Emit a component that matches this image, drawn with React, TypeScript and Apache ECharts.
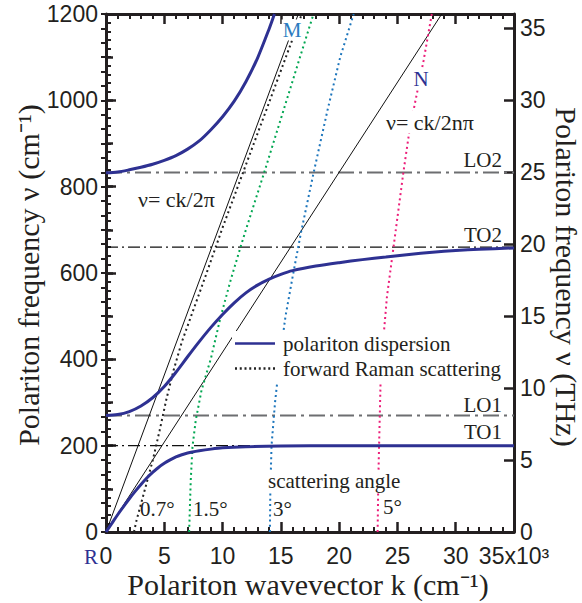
import React, { useEffect, useRef } from 'react';
import * as echarts from 'echarts';

// k in units of 10^3 cm^-1, nu in cm^-1
const lowerK = [0, 0.5, 1, 1.5, 2, 2.5, 3, 3.5, 4, 4.5, 5, 5.5, 6, 6.5, 7, 8, 9, 10, 12, 15, 20, 25, 30, 35];
const lowerNu = [0, 20, 40, 59, 77, 94, 110, 125, 138, 149.5, 159, 167, 174, 179, 183, 188, 192, 195, 197.5, 199, 200, 200, 200, 200];

const middleK = [0, 1, 2, 3, 4, 5, 6, 7, 8, 9, 10, 11, 12, 13, 14, 15, 16, 18, 20, 22, 24, 26, 28, 30, 32, 35];
const middleNu = [270, 272, 279, 292, 311, 337, 370, 406, 441, 474, 504, 531, 554, 572, 586, 597, 605.5, 616, 624, 631, 637, 643, 648, 652, 655, 658];

const upperK = [0, 1, 2, 3, 4, 5, 6, 7, 8, 9, 10, 11, 12, 13, 14, 14.45];
const upperNu = [832, 834, 839, 845, 852, 861, 872, 887, 906, 932, 962, 998, 1043, 1098, 1166, 1200];

const vacuumK = [0, 16.5];
const vacuumNu = [0, 1200];
const mediumK = [0, 28.8];
const mediumNu = [0, 1200];

const raman07K = [2.4, 2.6, 2.9, 3.4, 4.0, 4.6, 5.2, 5.8, 6.5, 7.5, 8.5, 10.0, 11.8, 13.8, 15.8, 16.8];
const raman07Nu = [0, 25, 55, 105, 165, 235, 310, 375, 440, 515, 590, 705, 836, 981, 1127, 1200];
const raman15K = [7.13, 7.2, 7.27, 7.42, 7.7, 8.2, 9.0, 9.84, 10.7, 11.55, 12.0, 13.55, 16.7, 17.8];
const raman15Nu = [0, 60, 120, 198, 259, 329, 402, 499, 584, 661, 700, 831, 1105, 1200];
const raman3K = [14.06, 14.1, 14.2, 14.5, 14.9, 15.4, 16.0, 16.7, 17.8, 19.0, 20.1, 21.25];
const raman3Nu = [0, 100, 200, 300, 400, 500, 590, 690, 831, 977, 1101, 1200];
const raman5K = [23.3, 23.35, 23.4, 23.55, 23.8, 24.1, 24.67, 25.5, 26.0, 26.5, 27.25, 27.95];
const raman5Nu = [0, 100, 170, 344, 450, 545, 661, 831, 924, 993, 1093, 1200];

const modeNames = ['TO1', 'LO1', 'TO2', 'LO2'];
const modeFreqs = [200, 270, 660, 833];

const xTicks = [0, 35, 5];
const yTicks = [0, 1200, 200];
const thzTicks = [0, 36, 5];

const INK = '#231f20';
const NAVY = '#2e3192';
const SERIF = 'Liberation Serif';
const SANS = 'Liberation Sans';

const zip = (a: number[], b: number[]) => a.map((v, i) => [v, b[i]]);

const axisLine = { show: true, onZero: false, lineStyle: { color: INK, width: 3 } };
const majorTick = (len: number) => ({ show: true, inside: true, length: len, lineStyle: { color: INK, width: 2.5 } });
const minorTick = (n: number) => ({ show: true, splitNumber: n, length: 5, lineStyle: { color: INK, width: 2 } });
const tickLabel = { fontSize: 23, fontFamily: SANS, color: INK };

const modeStyles = [
  { color: '#111', width: 1.3, type: [12, 4, 2, 4] },
  { color: '#6d6e71', width: 2, type: [16, 5, 3, 5] },
  { color: '#111', width: 1.3, type: [12, 4, 2, 4] },
  { color: '#6d6e71', width: 2, type: [16, 5, 3, 5] },
];
const modeLabelY = [432, 405, 235, 160];

const SOLID_ICON = 'path://M0,0h40v2.4h-40z';
const DOT_ICON =
  'path://M0,0h2v2.4h-2z M4.75,0h2v2.4h-2z M9.5,0h2v2.4h-2z M14.25,0h2v2.4h-2z M19,0h2v2.4h-2z M23.75,0h2v2.4h-2z M28.5,0h2v2.4h-2z M33.25,0h2v2.4h-2z M38,0h2v2.4h-2z';

function buildOption(): any {
  const dotted = (color: string) => ({ color, width: 2, type: [2, 3.2] });
  const series: any[] = [];
  modeNames.forEach((n, i) => {
    series.push({
      type: 'line', name: n, data: [[xTicks[0], modeFreqs[i]], [xTicks[1], modeFreqs[i]]],
      symbol: 'none', silent: true, lineStyle: modeStyles[i], color: modeStyles[i].color, z: 1,
    });
  });
  series.push(
    { type: 'line', name: 'vacuum', data: zip(vacuumK, vacuumNu), symbol: 'none', color: '#111', lineStyle: { color: '#111', width: 1 }, z: 2 },
    { type: 'line', name: 'medium', data: zip(mediumK, mediumNu), symbol: 'none', color: '#111', lineStyle: { color: '#111', width: 1 }, z: 2 },
    { type: 'line', name: 'forward Raman scattering', data: zip(raman07K, raman07Nu), symbol: 'none', color: '#222', lineStyle: dotted('#222'), z: 3 },
    { type: 'line', name: 'r15', data: zip(raman15K, raman15Nu), symbol: 'none', color: '#00a651', lineStyle: dotted('#00a651'), z: 3 },
    { type: 'line', name: 'r3', data: zip(raman3K, raman3Nu), symbol: 'none', color: '#1c75bc', lineStyle: dotted('#1c75bc'), z: 3 },
    { type: 'line', name: 'r5', data: zip(raman5K, raman5Nu), symbol: 'none', color: '#ec1e79', lineStyle: dotted('#ec1e79'), z: 3 },
  );
  [zip(lowerK, lowerNu), zip(middleK, middleNu), zip(upperK, upperNu)].forEach((d) => {
    series.push({
      type: 'line', name: 'polariton dispersion', data: d, symbol: 'none', smooth: 0.3,
      color: NAVY, lineStyle: { color: NAVY, width: 3 }, z: 4,
    });
  });

  const txt = (text: string, x: number, y: number, opts: any = {}) => ({
    type: 'text', x, y, z: 100,
    style: {
      text, font: `${opts.size || 21}px "${opts.family || SERIF}"`, fill: opts.color || INK,
      textAlign: opts.align || 'left', textVerticalAlign: 'middle',
      ...(opts.bg ? { backgroundColor: '#fff', padding: [0, 1] } : {}),
    },
    rotation: opts.rotation || 0,
  });

  const graphic: any[] = [
    txt('Polariton wavevector k (cm⁻¹)', 308, 584, { size: 30, align: 'center' }),
    txt('Polariton frequency ν (cm⁻¹)', 28, 275, { size: 30, align: 'center', rotation: Math.PI / 2 }),
    txt('Polariton frequency ν (THz)', 566, 277, { size: 30, align: 'center', rotation: -Math.PI / 2 }),
    txt('M', 292, 30, { color: '#2b7bc0', align: 'center', bg: true }),
    txt('N', 421, 79, { color: '#2e3192', align: 'center', bg: true }),
    txt('R', 91, 557, { color: '#2e3192', align: 'center' }),
    txt('ν= ck/2π', 138, 199, { size: 22 }),
    txt('ν= ck/2nπ', 385, 122, { size: 22, bg: true }),
    txt('scattering angle', 267, 481, { bg: true }),
    txt('0.7°', 140, 509),
    txt('1.5°', 193, 509),
    txt('3°', 273, 509),
    txt('5°', 383, 507),
  ];
  modeNames.forEach((n, i) => graphic.push(txt(n, 502, modeLabelY[i], { align: 'right' })));

  return {
    animation: false,
    backgroundColor: '#fff',
    grid: { left: 106, right: 68, top: 14, bottom: 71, containLabel: false },
    legend: {
      data: [
        { name: 'polariton dispersion', icon: SOLID_ICON },
        { name: 'forward Raman scattering', icon: DOT_ICON },
      ],
      orient: 'vertical', left: 232, top: 331,
      itemWidth: 40, itemHeight: 2.4, itemGap: 4,
      backgroundColor: '#fff', padding: [2, 4, 3, 3],
      textStyle: { fontFamily: SERIF, fontSize: 21, color: INK, lineHeight: 21, padding: [0, 0, 0, 3] },
      selectedMode: false, z: 50,
    },
    xAxis: [
      {
        type: 'value', position: 'bottom', min: xTicks[0], max: xTicks[1], interval: xTicks[2],
        axisLine, axisTick: majorTick(10), minorTick: minorTick(5),
        splitLine: { show: false }, minorSplitLine: { show: false },
        axisLabel: { ...tickLabel, margin: 12, formatter: (v: number) => (v === 35 ? '35x10³' : String(v)) },
      },
      {
        type: 'value', position: 'top', min: xTicks[0], max: xTicks[1], interval: xTicks[2],
        axisLine, axisTick: majorTick(10), minorTick: minorTick(5),
        splitLine: { show: false }, axisLabel: { show: false },
      },
    ],
    yAxis: [
      {
        type: 'value', position: 'left', min: yTicks[0], max: yTicks[1], interval: yTicks[2],
        axisLine, axisTick: majorTick(10), minorTick: minorTick(10),
        splitLine: { show: false }, minorSplitLine: { show: false },
        axisLabel: { ...tickLabel, margin: 8, formatter: (v: number) => String(v) },
      },
      {
        type: 'value', position: 'left', min: yTicks[0], max: yTicks[1], interval: 100,
        axisLine: { show: false }, axisTick: { show: true, inside: true, length: 7, lineStyle: { color: INK, width: 2.5 } },
        splitLine: { show: false }, axisLabel: { show: false },
      },
      {
        type: 'value', position: 'right', min: thzTicks[0], max: thzTicks[1], interval: thzTicks[2],
        axisLine, axisTick: majorTick(10), minorTick: { show: false },
        splitLine: { show: false },
        axisLabel: { ...tickLabel, margin: 6, formatter: (v: number) => (v % 5 === 0 ? String(v) : '') },
      },
      {
        type: 'value', position: 'right', min: thzTicks[0], max: thzTicks[1], interval: 1,
        axisLine: { show: false }, axisTick: { show: true, inside: true, length: 5, lineStyle: { color: INK, width: 2 } },
        splitLine: { show: false }, axisLabel: { show: false },
      },
    ],
    series,
    graphic,
  };
}

export default function App() {
  const ref = useRef<HTMLDivElement>(null);
  useEffect(() => {
    const chart = echarts.init(ref.current!, null, { renderer: 'svg' });
    chart.setOption(buildOption());
    return () => chart.dispose();
  }, []);
  return (
    <div
      ref={ref}
      style={{ position: 'fixed', left: 0, top: 0, width: 582, height: 603, background: '#fff' }}
    />
  );
}
